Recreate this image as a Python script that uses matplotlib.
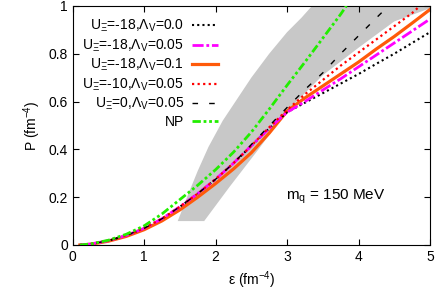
import numpy as np
import matplotlib
matplotlib.use('Agg')
import matplotlib.pyplot as plt

plt.rcParams['font.family'] = ['Liberation Sans', 'DejaVu Sans']
plt.rcParams['mathtext.fontset'] = 'custom'
plt.rcParams['mathtext.rm'] = 'Liberation Sans'
plt.rcParams['mathtext.it'] = 'Liberation Sans:italic'
plt.rcParams['font.size'] = 10

# energy density grid (fm^-4)
eps = [0.1, 0.25, 0.5, 0.75, 1.0, 1.25, 1.5, 1.75, 2.0, 2.25, 2.5, 2.75,
       3.0, 3.25, 3.5, 3.75, 4.0, 4.25, 4.5, 4.75, 5.0]

# U=-18, Lambda=0.0
p_u18_l00 = [0, 0.004, 0.018, 0.04, 0.07, 0.11, 0.16, 0.215, 0.275, 0.342, 0.415, 0.488,
             0.555, 0.595, 0.635, 0.675, 0.715, 0.758, 0.80, 0.845, 0.89]
# U=-18, Lambda=0.05
p_u18_l05 = [0, 0.004, 0.018, 0.04, 0.07, 0.11, 0.16, 0.215, 0.275, 0.342, 0.415, 0.488,
             0.555, 0.60, 0.648, 0.695, 0.745, 0.795, 0.845, 0.895, 0.945]
# U=-18, Lambda=0.1
p_u18_l10 = [0, 0.003, 0.016, 0.036, 0.064, 0.101, 0.147, 0.2, 0.257, 0.318, 0.386, 0.468,
             0.56, 0.615, 0.665, 0.715, 0.765, 0.82, 0.872, 0.928, 0.985]
# U=-10, Lambda=0.05
eps_u10 = eps[:-1] + [4.86]
p_u10_l05 = [0, 0.004, 0.018, 0.04, 0.07, 0.11, 0.16, 0.215, 0.275, 0.342, 0.415, 0.492,
             0.565, 0.63, 0.69, 0.75, 0.805, 0.86, 0.915, 0.97, 1.0]
# U=0, Lambda=0.05
eps_u0 = eps[:17] + [4.25, 4.42]
p_u0_l05 = [0, 0.004, 0.018, 0.04, 0.07, 0.11, 0.16, 0.215, 0.275, 0.342, 0.42, 0.498,
            0.575, 0.65, 0.72, 0.80, 0.875, 0.95, 1.0]
# NP
eps_np = eps[:16] + [3.83]
p_np = [0, 0.004, 0.02, 0.045, 0.08, 0.13, 0.19, 0.25, 0.315, 0.388, 0.472, 0.568,
        0.668, 0.765, 0.865, 0.965, 1.0]

# grey band
band_eps = [1.47, 1.6, 1.75, 1.9, 2.1, 2.3, 2.5, 2.75, 3.0, 3.2, 3.35, 5.0,
            5.0, 4.5, 4.0, 3.5, 3.0, 2.6, 2.2, 1.84]
band_p = [0.1, 0.2, 0.31, 0.41, 0.52, 0.61, 0.70, 0.80, 0.89, 0.95, 1.0, 1.0,
          0.99, 0.935, 0.825, 0.71, 0.56, 0.40, 0.245, 0.1]

fig = plt.figure(figsize=(4.36, 2.95), dpi=100)
ax = fig.add_axes([0.1667, 0.1695, 0.8195, 0.8105])

ax.fill(band_eps, band_p, color='#c8c8c8', lw=0, zorder=1)

ax.plot(eps, p_u18_l00, color='black', ls=(0, (1, 1.5)), lw=1.5,
        label=r'U$_{\mathregular{Ξ}}$=-18,Λ$_{\mathregular{V}}$=0.0', zorder=3)
ax.plot(eps, p_u18_l05, color='#ff00ff', ls=(0, (4, 1, 1, 1)), lw=2,
        label=r'U$_{\mathregular{Ξ}}$=-18,Λ$_{\mathregular{V}}$=0.05', zorder=3)
ax.plot(eps, p_u18_l10, color='#ff5a0a', ls='-', lw=2.3,
        label=r'U$_{\mathregular{Ξ}}$=-18,Λ$_{\mathregular{V}}$=0.1', zorder=2)
ax.plot(eps_u10, p_u10_l05, color='#ff0000', ls=(0, (1, 1.5)), lw=1.6,
        label=r'U$_{\mathregular{Ξ}}$=-10,Λ$_{\mathregular{V}}$=0.05', zorder=3)
ax.plot(eps_u0, p_u0_l05, color='black', ls=(0, (4, 8)), lw=1,
        label=r'U$_{\mathregular{Ξ}}$=0,Λ$_{\mathregular{V}}$=0.05', zorder=3)
ax.plot(eps_np, p_np, color='#22ee00', ls=(0, (3, 1, 1, 1, 1, 1)), lw=2,
        label='NP', zorder=3)

ax.text(3.68, 0.2, r'm$_{\mathregular{q}}$ = 150 MeV', ha='center', va='center', fontsize=11)

ax.set_xlim(0, 5)
ax.set_ylim(0, 1)
ax.set_xticks([0, 1, 2, 3, 4, 5])
ax.set_yticks([0, 0.2, 0.4, 0.6, 0.8, 1])
ax.set_yticklabels(['0', '0.2', '0.4', '0.6', '0.8', '1'])
ax.tick_params(direction='in', top=True, right=True, length=4, width=0.8)
ax.set_xlabel(r'ε (fm$^{\mathregular{-4}}$)')
ax.set_ylabel(r'P (fm$^{\mathregular{-4}}$)')

ax.legend(loc='upper left', bbox_to_anchor=(0.0, 0.99), frameon=False, markerfirst=False,
          handlelength=1.9, labelspacing=0.22, handletextpad=0.55, borderaxespad=0.3)

fig.savefig('out.png', dpi=100)
